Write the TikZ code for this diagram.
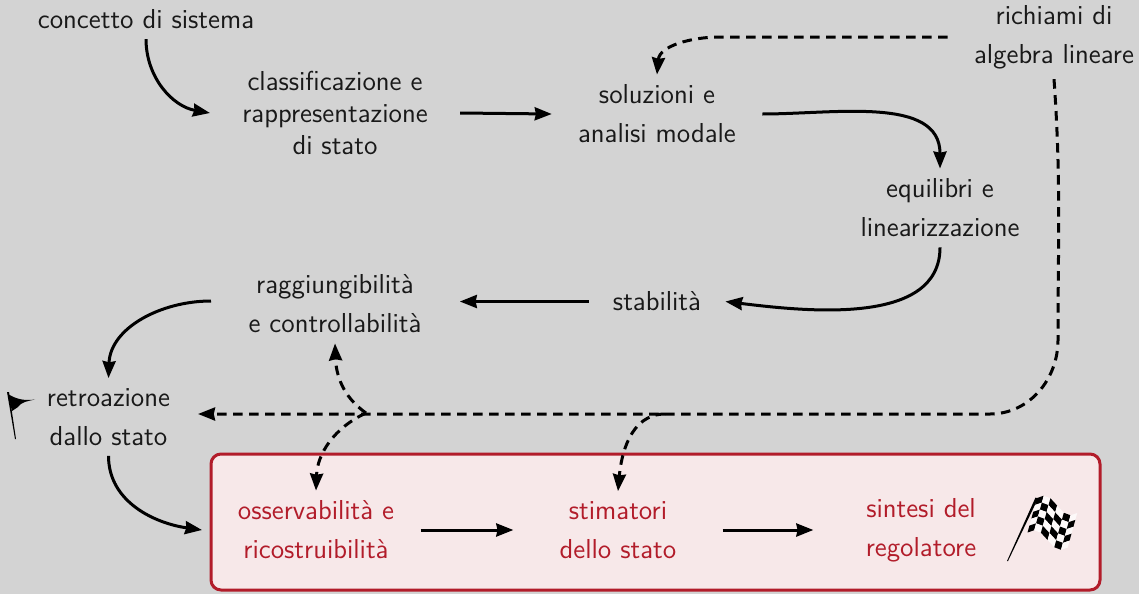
\documentclass[tikz,border=0pt]{standalone}
\usepackage{tikz}
\usetikzlibrary{arrows.meta}

\definecolor{bgray}{RGB}{211,211,211}
\definecolor{bred}{RGB}{178,28,42}
\definecolor{bpink}{RGB}{247,232,233}

\tikzset{
  topic/.style={font=\sffamily\fontsize{13.7}{19.4}\selectfont, align=center, text=black!90, inner xsep=13pt, inner ysep=5pt},
  redtopic/.style={topic, text=bred},
  link/.style={line width=1.5pt, -{Stealth[length=8.5pt,width=6.5pt,inset=0.6pt]}},
  dlink/.style={link, dash pattern=on 4.8pt off 3.2pt},
  redbox/.style={draw=bred, fill=bpink, line width=1.5pt, rounded corners=5pt, minimum width=444.5pt, minimum height=68pt, inner sep=0pt, outer sep=4.5pt},
}

\begin{document}
\begin{tikzpicture}[x=0.5pt,y=-0.5pt]
  \fill[bgray] (0,0) rectangle (1139,594);
  \useasboundingbox (0,0) rectangle (1139,594);

  \node[redbox] (box) at (655.5,522) {};

  % first row
  \node[topic] (concetto) at (146,19) {concetto di sistema};
  \node[topic, inner xsep=16pt, font=\sffamily\fontsize{13.7}{15.8}\selectfont] (classif) at (335,113) {classificazione e\\rappresentazione\\di stato};
  \node[topic] (soluz) at (657,114) {soluzioni e\\analisi modale};
  \node[topic] (richiami) at (1054,37) {richiami di\\algebra lineare};
  \node[topic] (equil) at (940,208) {equilibri e\\linearizzazione};
  \node[topic, inner xsep=12pt] (stab) at (657,301.5) {stabilit\`a};
  \node[topic, inner xsep=19pt] (ragg) at (335,304) {raggiungibilit\`a\\e controllabilit\`a};
  \node[topic] (retro) at (108.5,417) {retroazione\\dallo stato};

  % inside the box
  \node[redtopic] (oss) at (316,530) {osservabilit\`a e\\ricostruibilit\`a};
  \node[redtopic, inner xsep=23pt] (stim) at (618,530) {stimatori\\dello stato};
  \node[redtopic, inner xsep=26pt] (sint) at (921,530) {sintesi del\\regolatore};

  \coordinate (r1) at (1058,340);
  \coordinate (r2) at (990,414);
  \coordinate (b1) at (366,413);
  \coordinate (b2) at (665,414);
  \coordinate (a1) at (720,37);
  \coordinate (retroin) at (198,414);
  \coordinate (raggout) at (211,301);

  \draw[link] (concetto.south) to[out=-90,in=170] (classif.west);
  \draw[link] (classif.east) -- (soluz.west);
  \draw[link] (soluz.east) to[out=0,in=90] (equil.north);
  \draw[link] (equil.south) .. controls (940,325) and (810,312) .. (stab.east);
  \draw[link] (stab.west) -- (stab.west -| ragg.east);
  \draw[link] (raggout) to[out=180,in=88] (retro.north);
  \draw[link] (retro.south) to[out=-90,in=172] (box.west |- oss.west);
  \draw[link] (oss.east) -- (stim.west);
  \draw[link] (stim.east) -- (sint.west);

  \draw[dlink] (richiami.west) -- (a1) to[out=180,in=85] (soluz.north);
  \draw[dlink] (richiami.south) to[out=-86,in=90] (r1) to[out=-90,in=0] (r2) -- (retroin);
  \draw[dlink] (b1) to[out=145,in=-88] (ragg.south);
  \draw[dlink] (b1) to[out=205,in=88] (oss.north);
  \draw[dlink] (b2) to[out=180,in=85] (stim.north);

  % start flag
  \fill (7,392) -- (9,392) -- (16,439) -- (15,439) -- cycle;
  \fill (8,394) .. controls (16,399) and (24,401) .. (35,399.5) .. controls (28,401) and (21,402) .. (18,407) -- (12,411) -- cycle;

  % finish flag
  \fill (1007,561) -- (1035.5,497.5) -- (1038,498.5) -- (1008,561) -- cycle;
  \foreach \i in {0,...,5}
    \foreach \j in {0,...,4} {
      \pgfmathparse{int(mod(\i+\j,2))}
      \ifnum\pgfmathresult=0 \def\cellcol{black}\else \def\cellcol{white!75!bpink}\fi
      \fill[\cellcol] ({1037+\i*6.7-\j*1.9},{498+\i*2.5+\j*6.9-5.5*sin(\i*60)})
        -- ({1037+(\i+1)*6.7-\j*1.9},{498+(\i+1)*2.5+\j*6.9-5.5*sin((\i+1)*60)})
        -- ({1037+(\i+1)*6.7-(\j+1)*1.9},{498+(\i+1)*2.5+(\j+1)*6.9-5.5*sin((\i+1)*60)})
        -- ({1037+\i*6.7-(\j+1)*1.9},{498+\i*2.5+(\j+1)*6.9-5.5*sin(\i*60)}) -- cycle;
    }
\end{tikzpicture}
\end{document}
